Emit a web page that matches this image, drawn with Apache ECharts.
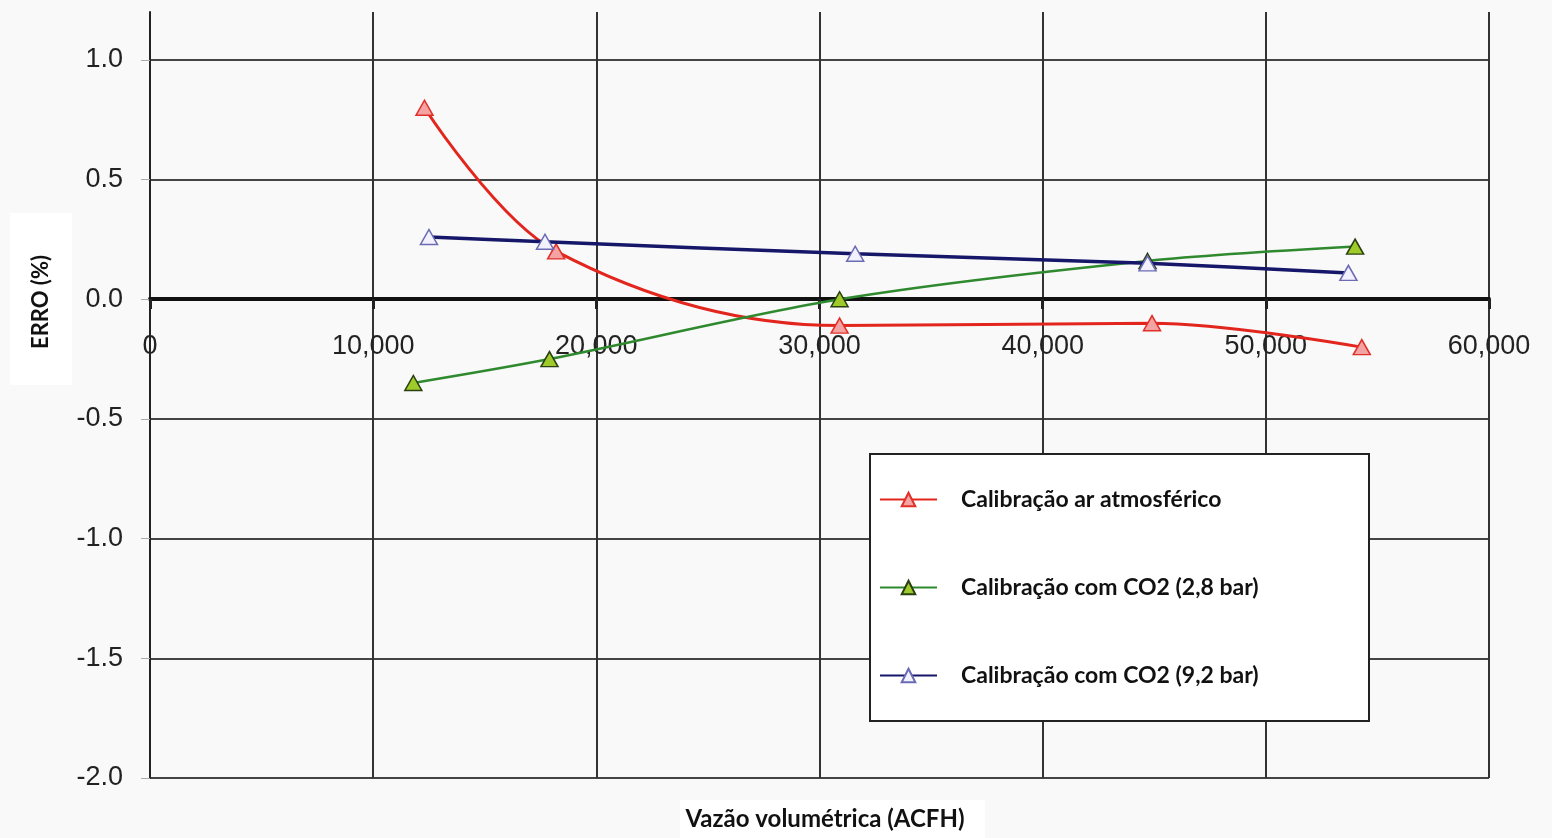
<!DOCTYPE html>
<html>
<head>
<meta charset="utf-8">
<script src="https://cdn.jsdelivr.net/npm/echarts@6/dist/echarts.min.js"></script>
<style>
html,body{margin:0;padding:0;background:#f9f9f9;}
#chart{width:1552px;height:838px;}
</style>
</head>
<body>
<div id="chart"></div>
<script>
// ---- data ----
const seriesNames = ['Calibração ar atmosférico', 'Calibração com CO2 (2,8 bar)', 'Calibração com CO2 (9,2 bar)'];
const xAr   = [12300, 18200, 30900, 44900, 54300];
const yAr   = [0.80, 0.20, -0.11, -0.10, -0.20];
const xCO2a = [11800, 17900, 30900, 44700, 54000];
const yCO2a = [-0.35, -0.25, 0.00, 0.16, 0.22];
const xCO2b = [12500, 17700, 31600, 44700, 53700];
const yCO2b = [0.26, 0.24, 0.19, 0.15, 0.11];
const xTickLabels = ['0', '10,000', '20,000', '30,000', '40,000', '50,000', '60,000'];
const yTickLabels = ['-2.0', '-1.5', '-1.0', '-0.5', '0.0', '0.5', '1.0'];
const xTitle = 'Vazão volumétrica (ACFH)';
const yTitle = 'ERRO (%)';

const pairs = (xs, ys) => xs.map((x, i) => [x, ys[i]]);

const chart = echarts.init(document.getElementById('chart'), null, {renderer: 'canvas'});
const titleFont = 'Lato, "Open Sans", sans-serif';
const tickFont = '"Liberation Sans", Arial, sans-serif';

const option = {
  backgroundColor: '#f9f9f9',
  animation: false,
  grid: {left: 150, right: 63, top: 12, bottom: 60, containLabel: false},
  xAxis: {
    type: 'value', min: 0, max: 60000, interval: 10000,
    position: 'bottom', offset: -479,
    axisLine: {show: true, onZero: false, lineStyle: {color: '#111', width: 4}},
    axisTick: {show: true, length: 10, lineStyle: {color: '#222', width: 3}},
    axisLabel: {
      margin: 34, color: '#222', fontSize: 27, fontFamily: tickFont,
      formatter: v => xTickLabels[Math.round(v / 10000)] ?? ''
    },
    splitLine: {show: true, lineStyle: {color: '#333', width: 2}}
  },
  yAxis: {
    type: 'value', min: -2, max: 1.2, interval: 0.5,
    axisLine: {show: true, onZero: false, lineStyle: {color: '#222', width: 2}},
    axisTick: {show: true, length: 9, lineStyle: {color: '#aaa', width: 1}},
    axisLabel: {
      margin: 27, color: '#222', fontSize: 27, fontFamily: tickFont,
      showMaxLabel: false,
      formatter: v => {
        const i = Math.round((v + 2) / 0.5);
        return (Math.abs(v - (-2 + i * 0.5)) < 1e-6 && yTickLabels[i]) ? yTickLabels[i] : '';
      }
    },
    splitLine: {show: true, showMaxLine: false, lineStyle: {color: '#444', width: 2}}
  },
  legend: {
    show: true, orient: 'vertical', left: 879, top: 488, z: 10, padding: 0,
    itemWidth: 57, itemHeight: 17, itemGap: 65,
    textStyle: {fontFamily: titleFont, fontWeight: 'bold', fontSize: 23, color: '#111', lineHeight: 20, padding: [0, 0, 0, 19]},
    data: seriesNames
  },
  graphic: [
    {type: 'rect', z: 3, shape: {x: 870, y: 454, width: 499, height: 267},
     style: {fill: '#ffffff', stroke: '#222', lineWidth: 2}},
    {type: 'rect', z: 1, shape: {x: 10, y: 213, width: 62, height: 172}, style: {fill: '#ffffff'}},
    {type: 'text', z: 5, x: 41, y: 302, rotation: Math.PI / 2,
     style: {text: yTitle, fontFamily: titleFont, fontWeight: 'bold', fontSize: 22, fill: '#111', align: 'center', verticalAlign: 'middle'}},
    {type: 'rect', z: 1, shape: {x: 680, y: 800, width: 305, height: 38}, style: {fill: '#ffffff'}},
    {type: 'text', z: 5, x: 825, y: 819,
     style: {text: xTitle, fontFamily: titleFont, fontWeight: 'bold', fontSize: 24, fill: '#111', align: 'center', verticalAlign: 'middle'}}
  ],
  series: [
    {
      name: seriesNames[0], type: 'line', data: pairs(xAr, yAr), smooth: 0.35,
      symbol: 'triangle', symbolSize: [17, 15], z: 3,
      lineStyle: {color: '#e3261d', width: 3},
      itemStyle: {color: '#f4a3a3', borderColor: '#e0302a', borderWidth: 1.5}
    },
    {
      name: seriesNames[1], type: 'line', data: pairs(xCO2a, yCO2a), smooth: 0.3,
      symbol: 'triangle', symbolSize: [17, 15], z: 4,
      lineStyle: {color: '#2f8a2f', width: 2.5},
      itemStyle: {color: '#9fcb2a', borderColor: '#2a4012', borderWidth: 1.5}
    },
    {
      name: seriesNames[2], type: 'line', data: pairs(xCO2b, yCO2b), smooth: 0.3,
      symbol: 'triangle', symbolSize: [17, 15], z: 5,
      lineStyle: {color: '#17176a', width: 3.5},
      itemStyle: {color: '#f2f2ff', borderColor: '#6b6bb5', borderWidth: 1.5}
    }
  ]
};
chart.setOption(option);
</script>
</body>
</html>
